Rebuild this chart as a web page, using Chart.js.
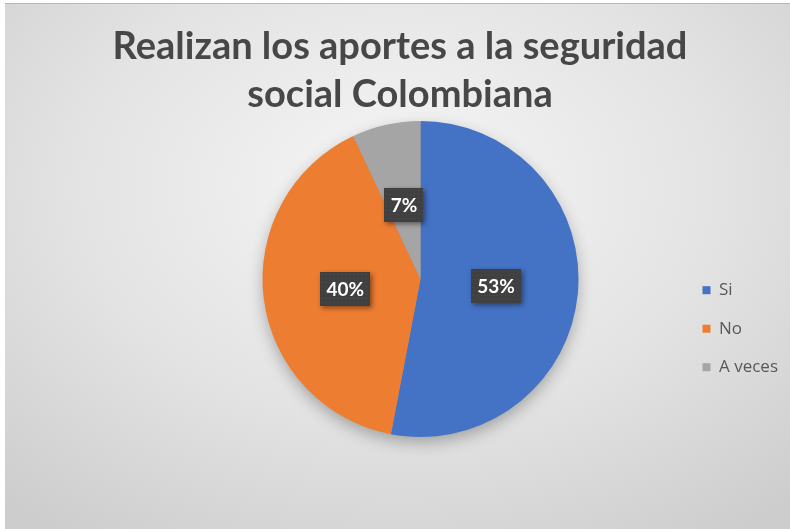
<!DOCTYPE html>
<html>
<head>
<meta charset="utf-8">
<script src="https://cdn.jsdelivr.net/npm/chart.js@4/dist/chart.umd.min.js"></script>
<style>
  html, body { margin: 0; padding: 0; background: #fff; }
  #frame {
    position: absolute; left: 5px; top: 3px; width: 785px; height: 525px;
    border-top: 1px solid #b8b8b8;
    background: radial-gradient(ellipse 75% 80% at 50% 35%, #f6f6f6 0%, #e3e3e3 55%, #cdcdcd 100%);
  }
  #wrap { position: absolute; left: 0; top: 0; width: 790px; height: 529px; }
</style>
</head>
<body>
<div id="frame"></div>
<div id="wrap"><canvas id="myChart"></canvas></div>
<script>
// Data
const categories = ['Si', 'No', 'A veces'];
const percentages = [53, 40, 7];
const sliceColors = ['#4472C4', '#ED7D31', '#A5A5A5'];
const chartTitle = ['Realizan los aportes a la seguridad', 'social Colombiana'];

// empty box on the left so the pie sits where Excel put it
const leftSpacer = {
  id: 'leftSpacer',
  beforeInit(chart) {
    Chart.layouts.addBox(chart, {
      position: 'left',
      weight: 0,
      fullSize: false,
      options: {},
      isHorizontal() { return false; },
      update(maxWidth, maxHeight) { this.width = 148; this.height = maxHeight; },
      draw() {}
    });
  }
};

// soft shadow under the whole pie
const pieShadow = {
  id: 'pieShadow',
  beforeDatasetsDraw(chart) {
    const arc = chart.getDatasetMeta(0).data[0];
    if (!arc) return;
    const ctx = chart.ctx;
    ctx.save();
    ctx.shadowColor = 'rgba(0, 0, 0, 0.3)';
    ctx.shadowBlur = 16;
    ctx.shadowOffsetY = 6;
    ctx.fillStyle = '#999';
    ctx.beginPath();
    ctx.arc(arc.x, arc.y, arc.outerRadius - 1, 0, Math.PI * 2);
    ctx.fill();
    ctx.restore();
  }
};

// dark boxes with the percentages
const percentLabels = {
  id: 'percentLabels',
  afterDatasetsDraw(chart) {
    const ctx = chart.ctx;
    const meta = chart.getDatasetMeta(0);
    ctx.save();
    ctx.font = 'bold 19px Lato';
    ctx.textAlign = 'center';
    ctx.textBaseline = 'middle';
    meta.data.forEach((arc, i) => {
      const p = arc.getProps(['x', 'y', 'startAngle', 'endAngle', 'outerRadius'], true);
      const mid = (p.startAngle + p.endAngle) / 2;
      const r = p.outerRadius * 0.48;
      const cx = p.x + Math.cos(mid) * r;
      const cy = p.y + Math.sin(mid) * r;
      const text = percentages[i] + '%';
      const w = Math.round(ctx.measureText(text).width + 12);
      const h = 34;
      const bx = Math.round(cx - w / 2);
      const by = Math.round(cy - h / 2);

      ctx.shadowColor = 'rgba(0, 0, 0, 0.45)';
      ctx.shadowBlur = 5;
      ctx.shadowOffsetX = 2;
      ctx.shadowOffsetY = 2;
      ctx.fillStyle = '#404040';
      ctx.fillRect(bx, by, w, h);
      ctx.shadowColor = 'transparent';

      // little dot texture
      ctx.fillStyle = 'rgba(255, 255, 255, 0.07)';
      for (let dy = 2; dy < h; dy += 4) {
        for (let dx = 2; dx < w; dx += 4) ctx.fillRect(bx + dx, by + dy, 1, 1);
      }

      ctx.fillStyle = '#ffffff';
      ctx.fillText(text, cx, by + h / 2 + 1);
    });
    ctx.restore();
  }
};

const ctx = document.getElementById('myChart').getContext('2d');

const myChart = new Chart(ctx, {
  type: 'pie',
  data: {
    labels: categories,
    datasets: [{
      data: percentages,
      backgroundColor: sliceColors,
      borderWidth: 0
    }]
  },
  options: {
    responsive: true,
    maintainAspectRatio: false,
    animation: false,
    layout: { padding: { top: 0, right: 2, bottom: 92, left: 12 } },
    plugins: {
      title: {
        display: true,
        text: chartTitle,
        color: '#474747',
        font: { family: 'Lato', size: 38, weight: 'bold', lineHeight: 48 / 38 },
        padding: { top: 23, bottom: 2 }
      },
      legend: {
        position: 'right',
        fullSize: false,
        title: { display: true, text: ' ', padding: { top: 85, bottom: 0 } },
        labels: {
          boxWidth: 8,
          boxHeight: 8,
          padding: 21.5,
          color: '#595959',
          font: { family: 'Open Sans', size: 17 }
        }
      },
      tooltip: { enabled: false }
    }
  },
  plugins: [leftSpacer, pieShadow, percentLabels]
});
</script>
</body>
</html>
